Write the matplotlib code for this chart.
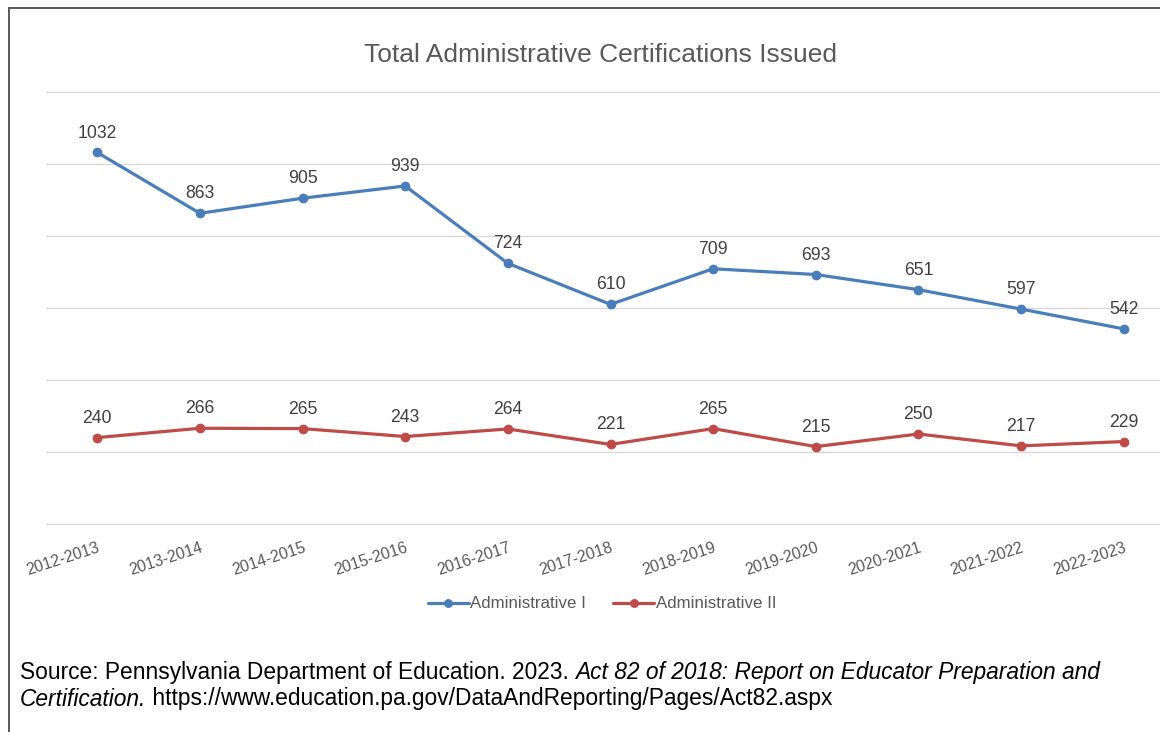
import matplotlib.pyplot as plt
from matplotlib.lines import Line2D

plt.rcParams['font.family'] = ['Liberation Sans', 'DejaVu Sans']

years = ['2012-2013', '2013-2014', '2014-2015', '2015-2016', '2016-2017',
         '2017-2018', '2018-2019', '2019-2020', '2020-2021', '2021-2022',
         '2022-2023']
admin_1 = [1032, 863, 905, 939, 724, 610, 709, 693, 651, 597, 542]
admin_2 = [240, 266, 265, 243, 264, 221, 265, 215, 250, 217, 229]

blue = '#4a7ebb'
red = '#be4b48'
grey = '#595959'

W, H = 1160, 732
fig = plt.figure(figsize=(W / 100, H / 100), dpi=100)

# plot area in pixel terms, converted to figure fractions
left, right, top, bottom = 46, 1175, 92, 524
ax = fig.add_axes([left / W, 1 - bottom / H, (right - left) / W, (bottom - top) / H])

x = range(len(years))
ax.plot(x, admin_1, color=blue, lw=2.3, marker='o', ms=6, label='Administrative I',
        solid_capstyle='round')
ax.plot(x, admin_2, color=red, lw=2.3, marker='o', ms=6, label='Administrative II',
        solid_capstyle='round')

for series in (admin_1, admin_2):
    for xi, v in zip(x, series):
        ax.annotate(str(v), (xi, v), xytext=(0, 14), textcoords='offset points',
                    ha='center', va='center', fontsize=12.7, color='#404040')

ax.set_xlim(-0.5, len(years) - 0.5)
ax.set_ylim(0, 1200)
ax.set_yticks(range(0, 1201, 200))
ax.yaxis.grid(True, color='#d9d9d9', lw=1)
for gl in ax.get_ygridlines():
    gl.set_clip_on(False)
ax.set_axisbelow(True)
ax.tick_params(axis='y', left=False, labelleft=False)
ax.tick_params(axis='x', bottom=False, colors=grey, labelsize=11.5, pad=8)
ax.set_xticks(list(x))
ax.set_xticklabels(years, rotation=18, ha='right', rotation_mode='anchor')
for tl in ax.get_xticklabels():
    tl.set_color(grey)
for s in ax.spines.values():
    s.set_visible(False)

fig.text(601 / W, 1 - 55 / H, 'Total Administrative Certifications Issued',
         ha='center', va='center', fontsize=19, color=grey)

fig.legend(loc='center', bbox_to_anchor=(602 / W, 1 - 604 / H), ncol=2, frameon=False,
           fontsize=12.2, labelcolor=grey, handlelength=2.4, handletextpad=0.1,
           columnspacing=1.6, markerscale=0.9)

# source note, mixing upright and italic runs
fs = 16.4
t1 = fig.text(20 / W, 1 - 673 / H, 'Source: Pennsylvania Department of Education. 2023. ',
              ha='left', va='center', fontsize=fs, color='black')
fig.add_artist(plt.Annotation('Act 82 of 2018: Report on Educator Preparation and',
                              xy=(1, 0), xycoords=t1, va='bottom', ha='left',
                              fontsize=fs, style='italic', color='black'))
t3 = fig.text(20 / W, 1 - 699 / H, 'Certification.', ha='left', va='center',
              fontsize=fs, style='italic', color='black')
fig.add_artist(plt.Annotation(' https://www.education.pa.gov/DataAndReporting/Pages/Act82.aspx',
                              xy=(1, 0), xycoords=t3, va='bottom', ha='left',
                              fontsize=fs, color='black'))

# outer frame: left and top edges only
frame_kw = dict(color='#595959', lw=1.4, transform=fig.transFigure)
fig.add_artist(Line2D([9 / W, 9 / W], [0, 1 - 8 / H], **frame_kw))
fig.add_artist(Line2D([9 / W, 1], [1 - 8 / H, 1 - 8 / H], **frame_kw))

fig.savefig('out.png', dpi=100)
